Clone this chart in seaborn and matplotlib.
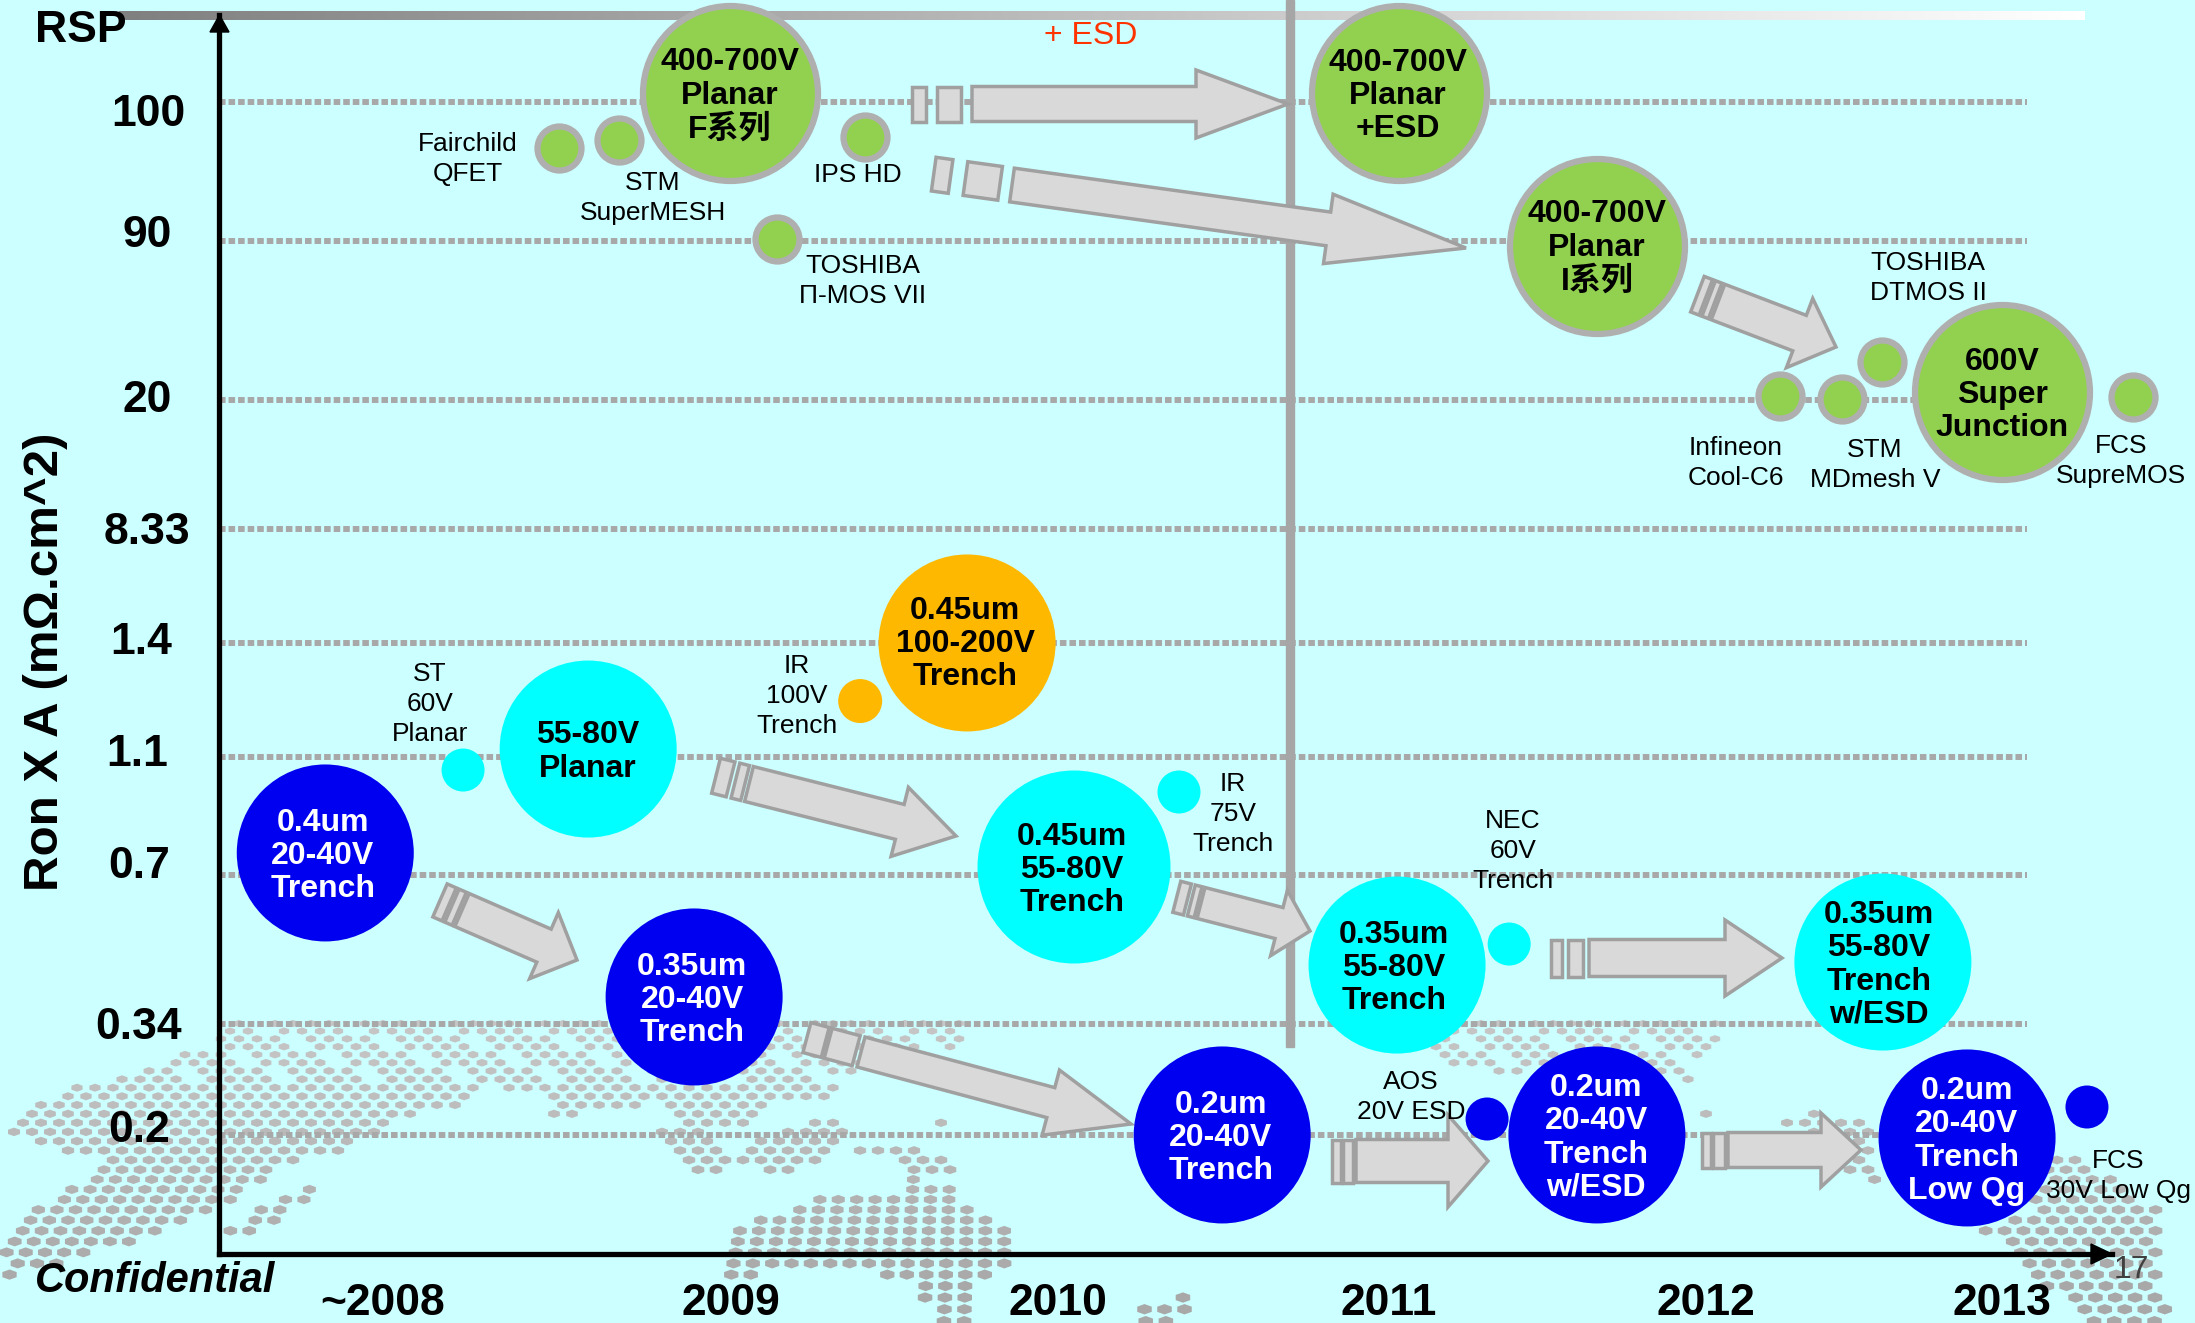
import numpy as np
import seaborn as sns
import matplotlib.pyplot as plt
from matplotlib.colors import LinearSegmentedColormap
from matplotlib.patches import Polygon
from matplotlib.path import Path
from matplotlib.transforms import Affine2D

W, H = 2195, 1323

# Axis labels
year_labels = ['~2008', '2009', '2010', '2011', '2012', '2013']
year_ticks = [2008.00, 2009.07, 2010.075, 2011.095, 2012.07, 2012.98]
rsp_labels = ['100', '90', '20', '8.33', '1.4', '1.1', '0.7', '0.34', '0.2']
rsp_rows = [96.0, 84.42, 71.17, 60.42, 50.92, 41.42, 31.58, 19.17, 9.92]

# Technology bubbles, x in years, y in rows of the RSP axis
green_big_x = [2009.068, 2011.126, 2011.735, 2012.982]
green_big_y = [96.75, 96.75, 84.0, 71.83]
green_small_x = [2008.542, 2008.726, 2009.483, 2009.212, 2012.298, 2012.489, 2012.612, 2013.385]
green_small_y = [92.17, 92.83, 93.08, 84.58, 71.5, 71.25, 74.33, 71.42]
blue_big_x = [2007.822, 2008.957, 2010.582, 2011.735, 2012.874]
blue_big_y = [33.42, 21.42, 9.92, 9.92, 9.67]
blue_small_x = [2011.397, 2013.243]
blue_small_y = [11.25, 12.25]
cyan_big_x = [2008.631, 2011.12, 2012.615]
cyan_big_y = [42.08, 24.08, 24.33]
cyan_large_x = [2010.126]
cyan_large_y = [32.25]
cyan_small_x = [2008.246, 2010.449, 2011.465]
cyan_small_y = [40.33, 38.5, 25.83]
orange_big_x = [2009.797]
orange_big_y = [50.92]
orange_small_x = [2009.468]
orange_small_y = [46.08]

GREEN, GREY, BLUE, CYAN, ORANGE = '#92D050', '#AFAFAF', '#0000F0', '#00FFFF', '#FFB800'


def s_px(diameter):
    # scatter size from a diameter in pixels
    return (diameter * 0.72) ** 2


sns.set_theme(style='white')
plt.rcParams['font.family'] = ['Liberation Sans', 'Noto Sans CJK SC', 'DejaVu Sans']
plt.rcParams['text.color'] = 'black'
plt.rcParams['xtick.color'] = 'black'
plt.rcParams['ytick.color'] = 'black'
plt.rcParams['axes.labelcolor'] = 'black'

fig = plt.figure(figsize=(W / 100, H / 100), dpi=100, facecolor='#CCFFFF')
px = Affine2D().scale(1 / W, -1 / H).translate(0, 1) + fig.transFigure

# Background layer: world map dots and the grey fade bar
bg = fig.add_axes([0, 0, 1, 1], zorder=0)
bg.set_xlim(0, W)
bg.set_ylim(H, 0)
bg.axis('off')

land = [
    [(239, 1022), (961, 1022), (961, 1050), (842, 1077), (835, 1097), (772, 1097), (758, 1113), (737, 1127),
     (681, 1130), (667, 1100), (604, 1110), (554, 1120), (540, 1093), (491, 1087), (470, 1103), (400, 1120),
     (351, 1147), (295, 1163), (260, 1183), (239, 1200), (211, 1208), (189, 1217), (168, 1235), (133, 1243),
     (91, 1255), (63, 1267), (7, 1278), (0, 1260), (7, 1243), (35, 1210), (70, 1190), (105, 1160), (14, 1137),
     (14, 1122), (21, 1107), (84, 1085), (161, 1063), (211, 1045)],
    [(225, 1237), (260, 1233), (330, 1185), (309, 1185), (239, 1217)],
    [(656, 1132), (702, 1130), (751, 1168), (702, 1172), (674, 1163)],
    [(730, 1153), (793, 1123), (849, 1120), (842, 1150), (814, 1163), (772, 1180), (737, 1157)],
    [(856, 1150), (919, 1150), (982, 1177), (905, 1180), (891, 1160)],
    [(940, 1117), (956, 1117), (956, 1131), (940, 1131)],
    [(821, 1195), (954, 1185), (975, 1210), (989, 1217), (1007, 1230), (1007, 1270), (989, 1283), (968, 1287),
     (968, 1323), (933, 1323), (912, 1287), (856, 1270), (807, 1270), (723, 1280), (723, 1260), (730, 1223),
     (779, 1213)],
    [(1463, 1022), (1715, 1022), (1718, 1043), (1687, 1082), (1645, 1073), (1519, 1075), (1463, 1067),
     (1428, 1053), (1442, 1038)],
    [(1683, 1107), (1715, 1107), (1725, 1118), (1687, 1113)],
    [(1725, 1120), (1819, 1113), (1875, 1120), (1875, 1150), (1879, 1190), (1861, 1183), (1833, 1157), (1784, 1123)],
    [(2036, 1150), (2092, 1163), (2161, 1210), (2161, 1283), (2168, 1323), (2092, 1323), (2043, 1283),
     (2022, 1260), (1980, 1230), (2029, 1210)],
    [(1152, 1272), (1212, 1303), (1177, 1323), (1128, 1323), (1142, 1308), (1170, 1297)],
]

# rows get wider apart towards the bottom, the map is drawn in perspective
row_y, y = [], 1016.0
while y < H + 8:
    row_y.append(y)
    y += 7.5 + 4.5 * (y - 1016) / 300
dots = []
for i, y in enumerate(row_y):
    for j, x in enumerate(np.arange(-40, W + 40, 18.0)):
        if y < 1085 and (i * 3 + j * 2) % 5 == 0:
            continue  # top of the map is sparse
        if y < 1170:
            dots.append((x + 9 * (i % 2), y))
        else:
            dots.append((1000 + (x - 1000) * (1 + (y - 1170) * 0.0008), y))
dots = np.array(dots)
inside = np.zeros(len(dots), dtype=bool)
for shape in land:
    inside |= Path(shape).contains_points(dots)
dots = dots[inside]
depth = np.clip((dots[:, 1] - 1016) / 270, 0, 1)
shade = 0.78 - 0.12 * depth
dot = Path.unit_regular_polygon(6).transformed(Affine2D().scale(1, 0.62))
bg.scatter(dots[:, 0], dots[:, 1], s=s_px(10 + 4.5 * depth), marker=dot, c=np.column_stack([shade, shade, shade]),
           linewidths=0)

fade = LinearSegmentedColormap.from_list('fade', ['#808080', '#FFFFFF'])
bg.imshow(np.linspace(0, 1, 256)[None, :], cmap=fade, extent=(119, 2085, 20, 11), aspect='auto', zorder=1)
bg.set_xlim(0, W)
bg.set_ylim(H, 0)

# Main axes
ax = fig.add_axes([219 / W, (H - 1254) / H, (2112 - 219) / W, 1239 / H], zorder=1)
ax.patch.set_alpha(0)

ax.hlines(rsp_rows, 2007.495, 2013.058, color='#A8A8A8', lw=4.3, linestyles=(0, (1.1, 0.5)), zorder=1)

ax.add_patch(Polygon([(1286, 0), (1294, 0), (1294, 1047), (1286, 1047)], transform=px, color='#A6A6A6',
                     clip_on=False, zorder=2))


def block_arrow(sx, sy, tx, ty, shaft, head, head_len, strips):
    start, tip = np.array([sx, sy], float), np.array([tx, ty], float)
    u = (tip - start) / np.linalg.norm(tip - start)
    n = np.array([-u[1], u[0]])
    base = tip - u * head_len
    shapes = [[start + n * shaft, base + n * shaft, base + n * head, tip,
               base - n * head, base - n * shaft, start - n * shaft]]
    for a, b in strips:
        pa, pb = start - u * a, start - u * b
        shapes.append([pa + n * shaft, pb + n * shaft, pb - n * shaft, pa - n * shaft])
    for shape in shapes:
        ax.add_patch(Polygon(shape, transform=px, facecolor='#D9D9D9', edgecolor='#A0A0A0', lw=2.5,
                             clip_on=False, zorder=2.5))


arrows = [
    (972, 104, 1288, 104, 17.5, 34, 92, [(11, 35), (46, 60)]),
    (1012, 185, 1466, 248, 17, 35, 139, [(12, 47), (62, 79)]),
    (1718, 302, 1836, 347, 19, 37, 39, [(3, 10), (13, 22)]),
    (462, 910, 577, 960, 18, 36, 36, [(3, 11), (14, 24)]),
    (749, 784, 956, 836, 18, 35.6, 58, [(4, 14), (19, 34)]),
    (1201, 903, 1310, 931, 16, 33.7, 32, [(3, 10), (14, 25)]),
    (1589, 958, 1782, 958, 18.5, 38, 57, [(6, 21), (27, 38)]),
    (861, 1052, 1131, 1124, 15.5, 33.7, 83, [(5, 34), (37, 56)]),
    (1356, 1161, 1488, 1161, 21.5, 46, 40, [(3, 13), (15, 24)]),
    (1728, 1150, 1861, 1150, 17.5, 37, 40, [(3, 15), (17, 26)]),
]
for a in arrows:
    block_arrow(*a)

# Bubbles
bubbles = [
    (green_big_x, green_big_y, 175, GREEN, GREY, 4.5),
    (green_small_x, green_small_y, 44, GREEN, GREY, 4.5),
    (blue_big_x, blue_big_y, 177, BLUE, 'none', 0),
    (blue_small_x, blue_small_y, 43, BLUE, 'none', 0),
    (cyan_big_x, cyan_big_y, 177, CYAN, 'none', 0),
    (cyan_large_x, cyan_large_y, 193, CYAN, 'none', 0),
    (cyan_small_x, cyan_small_y, 43, CYAN, 'none', 0),
    (orange_big_x, orange_big_y, 177, ORANGE, 'none', 0),
    (orange_small_x, orange_small_y, 44, ORANGE, 'none', 0),
]
for xs, ys, d, fc, ec, lw in bubbles:
    sns.scatterplot(x=xs, y=ys, s=s_px(d), color=fc, edgecolor=ec, linewidth=lw, ax=ax, legend=False,
                    clip_on=False, zorder=3)

ax.set_xlim(2007.495, 2013.32)
ax.set_ylim(0, 103.25)

# Axes, ticks and arrow heads
sns.despine(ax=ax)
for side in ['left', 'bottom']:
    ax.spines[side].set_linewidth(3.8)
    ax.spines[side].set_color('black')
ax.add_patch(Polygon([(210, 32), (219.5, 15), (229, 32)], transform=px, color='black', clip_on=False, zorder=4))
ax.add_patch(Polygon([(2091, 1244), (2112, 1254), (2091, 1264)], transform=px, color='black', clip_on=False, zorder=4))

ax.set_xticks(year_ticks, year_labels)
ax.set_yticks(rsp_rows, rsp_labels)
ax.tick_params(axis='both', length=0)
ax.tick_params(axis='x', pad=21, labelsize=32)
ax.tick_params(axis='y', pad=52, labelsize=32)
for lab in ax.get_xticklabels():
    lab.set_fontweight('bold')
label_dx = [2, 0, 0, 0, -6, -10, -8, -8, -8]
label_dy = [8, -10, -4, -1, -5, -7, -13, -1, -9]
for lab, dx, dy in zip(ax.get_yticklabels(), label_dx, label_dy):
    lab.set_fontweight('bold')
    lab.set_ha('center')
    lab.set_transform(lab.get_transform() + Affine2D().translate(dx, -dy))

ax.set_ylabel('Ron X A (mΩ.cm^2)', fontsize=35.5, fontweight='bold')
ax.yaxis.set_label_coords((68 - 219) / 1893, (1254 - 662) / 1239)


def label(x, y, s, size=19, weight='normal', color='black', spacing=1.3, style='normal'):
    ax.text(x, y, s, transform=px, fontsize=size, fontweight=weight, color=color, ha='center', va='center',
            linespacing=spacing, fontstyle=style, clip_on=False, zorder=5)


# Text inside the bubbles
bubble_text = [
    (730, 96, '400-700V\nPlanar\nF系列', 'black'),
    (1398, 96, '400-700V\nPlanar\n+ESD', 'black'),
    (1597, 248, '400-700V\nPlanar\nI系列', 'black'),
    (2002, 395, '600V\nSuper\nJunction', 'black'),
    (965, 644, '0.45um\n100-200V\nTrench', 'black'),
    (588, 752, '55-80V\nPlanar', 'black'),
    (323, 856, '0.4um\n20-40V\nTrench', 'white'),
    (692, 1000, '0.35um\n20-40V\nTrench', 'white'),
    (1072, 870, '0.45um\n55-80V\nTrench', 'black'),
    (1394, 968, '0.35um\n55-80V\nTrench', 'black'),
    (1879, 965, '0.35um\n55-80V\nTrench\nw/ESD', 'black'),
    (1221, 1138, '0.2um\n20-40V\nTrench', 'white'),
    (1596, 1138, '0.2um\n20-40V\nTrench\nw/ESD', 'white'),
    (1967, 1141, '0.2um\n20-40V\nTrench\nLow Qg', 'white'),
]
for x, y, s, c in bubble_text:
    label(x, y, s, size=23, weight='bold', color=c, spacing=1.14)

# Vendor names
vendor_text = [
    (468, 159, 'Fairchild\nQFET'),
    (653, 198, 'STM\nSuperMESH'),
    (858, 175, 'IPS HD'),
    (863, 281, 'TOSHIBA\nΠ-MOS VII'),
    (1928, 278, 'TOSHIBA\nDTMOS II'),
    (1736, 463, 'Infineon\nCool-C6'),
    (1875, 465, 'STM\nMDmesh V'),
    (2121, 461, 'FCS\nSupreMOS'),
    (430, 704, 'ST\n60V\nPlanar'),
    (797, 696, 'IR\n100V\nTrench'),
    (1233, 814, 'IR\n75V\nTrench'),
    (1513, 851, 'NEC\n60V\nTrench'),
    (1411, 1097, 'AOS\n20V ESD'),
    (2118, 1176, 'FCS\n30V Low Qg'),
]
for x, y, s in vendor_text:
    label(x, y, s)

label(1091, 36, '+ ESD', size=23, color='#FF3300')
label(81, 31, 'RSP', size=32, weight='bold')
label(155, 1281, 'Confidential', size=30, weight='bold', style='italic')
label(2131, 1270, '17', size=23, color='#404040')

fig.savefig('out.png', dpi=100)
